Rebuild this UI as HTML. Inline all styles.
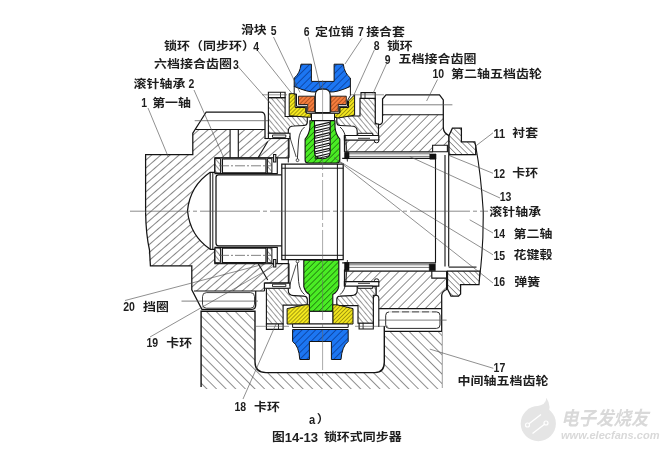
<!DOCTYPE html>
<html lang="zh">
<head>
<meta charset="utf-8">
<title>图14-13 锁环式同步器</title>
<style>
html,body{margin:0;padding:0;background:#fff;}
body{width:668px;height:451px;overflow:hidden;}
svg{display:block;}
.draw,.lbl{filter:blur(0.45px);}
.wm{filter:blur(0.6px);}
.lbl text{font-family:"Liberation Sans","Noto Sans CJK SC",sans-serif;font-size:11.6px;font-weight:700;fill:#1e1e1e;white-space:pre;}
.lbl text.n{font-size:13.6px;font-weight:700;}
.wm text{font-family:"Liberation Sans","Noto Sans CJK SC",sans-serif;font-style:italic;font-weight:700;fill:#d9d9d9;}
</style>
</head>
<body>
<svg width="668" height="451" viewBox="0 0 668 451">
<defs>
<pattern id="hA" width="6" height="6" patternUnits="userSpaceOnUse" patternTransform="rotate(49)"><rect width="6" height="6" fill="#fff"/><line x1="0" y1="0" x2="0" y2="6" stroke="#2a2a2a" stroke-width="1.15"/></pattern>
<pattern id="hG" width="6.4" height="6.4" patternUnits="userSpaceOnUse" patternTransform="rotate(45)"><rect width="6.4" height="6.4" fill="#fff"/><line x1="0" y1="0" x2="0" y2="6.4" stroke="#333" stroke-width="1.1"/></pattern>
<pattern id="hC" width="3.9" height="3.9" patternUnits="userSpaceOnUse" patternTransform="rotate(-40)"><rect width="3.9" height="3.9" fill="#fff"/><line x1="0" y1="0" x2="0" y2="3.9" stroke="#333" stroke-width="1.0"/></pattern>
<pattern id="hD" width="4.1" height="4.1" patternUnits="userSpaceOnUse" patternTransform="rotate(-45)"><rect width="4.1" height="4.1" fill="#fff"/><line x1="0" y1="0" x2="0" y2="4.1" stroke="#333" stroke-width="1.0"/></pattern>
<pattern id="hB" width="6.8" height="6.8" patternUnits="userSpaceOnUse" patternTransform="rotate(-45)"><rect width="6.8" height="6.8" fill="#fff"/><line x1="0" y1="0" x2="0" y2="6.8" stroke="#333" stroke-width="1.1"/></pattern>
<pattern id="hBlue" width="4.8" height="4.8" patternUnits="userSpaceOnUse" patternTransform="rotate(45)"><rect width="4.8" height="4.8" fill="#1c76f2"/><line x1="0" y1="0" x2="0" y2="4.8" stroke="#052a78" stroke-width="1.2"/></pattern>
<pattern id="hOrange" width="3" height="3" patternUnits="userSpaceOnUse" patternTransform="rotate(45)"><rect width="3" height="3" fill="#f67e3e"/><line x1="0" y1="0" x2="0" y2="3" stroke="#7a2e08" stroke-width="1.0"/></pattern>
<pattern id="hYellow" width="2.8" height="2.8" patternUnits="userSpaceOnUse" patternTransform="rotate(45)"><rect width="2.8" height="2.8" fill="#f4e71e"/><line x1="0" y1="0" x2="0" y2="2.8" stroke="#555000" stroke-width="1.0"/></pattern>
<pattern id="hGreen" width="4.2" height="4.2" patternUnits="userSpaceOnUse" patternTransform="rotate(45)"><rect width="4.2" height="4.2" fill="#4aec24"/><line x1="0" y1="0" x2="0" y2="4.2" stroke="#0e4f04" stroke-width="1.2"/></pattern>
</defs>
<rect width="668" height="451" fill="#fff"/>
<g class="draw">
<path d="M145.6 154.7 L192.8 154.7 L192.8 133.1 L195.2 129.5 L230.1 129.5 L230.1 157.8 L215 157.8 L215 172.3 L210.2 172.3 Q190 186 187.5 210.8 L145.6 210.8 Z" fill="url(#hA)" stroke="none" stroke-width="0.00" />
<path d="M238.3 129.5 L264.5 129.5 L264.5 138.5 L289 138.5 L289 157.8 L238.3 157.8 Z" fill="url(#hA)" stroke="none" stroke-width="0.00" />
<path d="M145.6 210.8 L187.5 210.8 Q190 235.6 210.2 249.3 L215 249.3 L215 263.5 L289 263.5 L289 283 L264.5 283 L264.5 291 L194 291 L191.8 289.9 L191.8 265.9 L150.4 265.9 Q146 235 145.6 210.8 Z" fill="url(#hA)" stroke="none" stroke-width="0.00" />
<path d="M145.6 212.8 L145.6 154.7 L192.8 154.7 L192.8 133.1 L206.2 112 L261 112 Q265 112 265 117 L265 138.5" fill="none" stroke="#141414" stroke-width="1.25" />
<path d="M145.6 212.8 Q146 235 149.5 250 L150.4 265.9 L191.8 265.9 L191.8 289.9 L201.9 309.3 L252 309.3 Q255.7 309.3 255.7 305 L255.7 291" fill="none" stroke="#141414" stroke-width="1.25" />
<line x1="195.2" y1="129.5" x2="265" y2="129.5" stroke="#141414" stroke-width="1.12" />
<line x1="194" y1="291" x2="264.5" y2="291" stroke="#141414" stroke-width="1.12" />
<line x1="194.7" y1="120.7" x2="275" y2="120.7" stroke="#555" stroke-width="0.75" />
<line x1="181.5" y1="301.1" x2="258" y2="301.1" stroke="#555" stroke-width="0.75" />
<line x1="230.1" y1="129.5" x2="230.1" y2="157.8" stroke="#141414" stroke-width="1.12" />
<line x1="238.3" y1="129.5" x2="238.3" y2="157.8" stroke="#141414" stroke-width="1.12" />
<path d="M289 157.8 L215 157.8 L215 172.3 L210.2 172.3 Q190 186 187.5 210.8 Q190 235.6 210.2 249.3 L215 249.3 L215 263.5 L289 263.5" fill="none" stroke="#141414" stroke-width="1.25" />
<line x1="267.7" y1="141.5" x2="258.1" y2="157.8" stroke="#141414" stroke-width="1.12" />
<line x1="267.7" y1="280" x2="258.1" y2="263.5" stroke="#141414" stroke-width="1.12" />
<line x1="264.5" y1="138.5" x2="289" y2="138.5" stroke="#141414" stroke-width="1.12" />
<line x1="264.5" y1="283" x2="289" y2="283" stroke="#141414" stroke-width="1.12" />
<line x1="264.5" y1="283" x2="264.5" y2="291" stroke="#141414" stroke-width="1.12" />
<line x1="289" y1="138.5" x2="289" y2="157.8" stroke="#141414" stroke-width="1.12" />
<line x1="289" y1="283" x2="289" y2="263.5" stroke="#141414" stroke-width="1.12" />
<path d="M215 158 L277.3 158 L277.3 173.6 L215 173.6 Z" fill="#fff" stroke="#141414" stroke-width="1.12" />
<path d="M222.4 158.8 L266 158.8 L266 172.8 L222.4 172.8 Z" fill="#fff" stroke="#141414" stroke-width="1.25" />
<path d="M215 158.6 L220.6 158.6 L220.6 173 L215 173 Z" fill="url(#hC)" stroke="#141414" stroke-width="1.00" />
<path d="M267.4 158.6 L271.9 158.6 L271.9 173 L267.4 173 Z" fill="url(#hC)" stroke="#141414" stroke-width="1.00" />
<line x1="219" y1="165.8" x2="271" y2="165.8" stroke="#555" stroke-width="0.75" stroke-dasharray="10 2 2 2"/>
<path d="M273.6 154.5 L275.8 154.5 L275.8 162 L273.6 162 Z" fill="#fff" stroke="#141414" stroke-width="1.12" />
<path d="M215 247.4 L277.3 247.4 L277.3 263.3 L215 263.3 Z" fill="#fff" stroke="#141414" stroke-width="1.12" />
<path d="M222.4 248.2 L266 248.2 L266 262.5 L222.4 262.5 Z" fill="#fff" stroke="#141414" stroke-width="1.25" />
<path d="M215 248 L220.6 248 L220.6 262.7 L215 262.7 Z" fill="url(#hC)" stroke="#141414" stroke-width="1.00" />
<path d="M267.4 248 L271.9 248 L271.9 262.7 L267.4 262.7 Z" fill="url(#hC)" stroke="#141414" stroke-width="1.00" />
<line x1="219" y1="255.35" x2="271" y2="255.35" stroke="#555" stroke-width="0.75" stroke-dasharray="10 2 2 2"/>
<path d="M273.6 259.5 L275.8 259.5 L275.8 267 L273.6 267 Z" fill="#fff" stroke="#141414" stroke-width="1.12" />
<path d="M281.8 174.8 L218.5 174.8 Q216 174.8 216 177.5 L216 243 Q216 245.8 218.5 245.8 L281.8 245.8" fill="none" stroke="#141414" stroke-width="1.25" />
<line x1="210.2" y1="172.3" x2="210.2" y2="249.3" stroke="#141414" stroke-width="1.12" />
<line x1="212.8" y1="172.3" x2="212.8" y2="249.3" stroke="#141414" stroke-width="1.00" />
<path d="M281.8 164 L343.2 164 L343.2 259.5 L281.8 259.5 Z" fill="#fff" stroke="#141414" stroke-width="1.25" />
<line x1="281.8" y1="168.2" x2="343.2" y2="168.2" stroke="#141414" stroke-width="1.00" />
<line x1="281.8" y1="255.3" x2="343.2" y2="255.3" stroke="#141414" stroke-width="1.00" />
<line x1="285.2" y1="164" x2="285.2" y2="259.5" stroke="#141414" stroke-width="1.00" />
<line x1="337.4" y1="164" x2="337.4" y2="259.5" stroke="#141414" stroke-width="1.00" />
<line x1="342.2" y1="158.4" x2="436" y2="158.4" stroke="#141414" stroke-width="1.25" />
<line x1="342.2" y1="262.8" x2="436" y2="262.8" stroke="#141414" stroke-width="1.25" />
<line x1="435.5" y1="158.4" x2="435.5" y2="262.8" stroke="#141414" stroke-width="1.12" />
<line x1="445" y1="155" x2="445" y2="266.6" stroke="#141414" stroke-width="1.12" />
<line x1="448.7" y1="155" x2="448.7" y2="266.6" stroke="#141414" stroke-width="1.12" />
<path d="M475.7 146 Q481 175 483.2 210.8 Q483.6 250 479 280.9" fill="none" stroke="#141414" stroke-width="1.12" />
<line x1="448.7" y1="154.5" x2="476.5" y2="154.5" stroke="#141414" stroke-width="1.12" />
<line x1="448.7" y1="267.1" x2="476.5" y2="267.1" stroke="#141414" stroke-width="1.12" />
<line x1="349" y1="153.8" x2="430" y2="153.8" stroke="#444" stroke-width="0.75" />
<line x1="349" y1="156.4" x2="430" y2="156.4" stroke="#444" stroke-width="0.75" />
<path d="M344.6 152.3 L349 152.3 L349 158.6 L344.6 158.6 Z" fill="#111" stroke="#111" stroke-width="0.62" />
<path d="M429.8 154 L436 154 L436 159.2 L429.8 159.2 Z" fill="#111" stroke="#111" stroke-width="0.62" />
<line x1="349" y1="264.8" x2="430" y2="264.8" stroke="#444" stroke-width="0.75" />
<line x1="349" y1="267.4" x2="430" y2="267.4" stroke="#444" stroke-width="0.75" />
<path d="M344.6 262.5 L349 262.5 L349 270.5 L344.6 270.5 Z" fill="#111" stroke="#111" stroke-width="0.62" />
<path d="M429.3 264.1 L435.3 264.1 L435.3 270.7 L429.3 270.7 Z" fill="#111" stroke="#111" stroke-width="0.62" />
<path d="M382.5 114.7 L443.3 114.7 L443.3 127.9 Q443.6 133 449 135.6 L449 145.2 L432.6 145.2 L432.6 151.8 L344.8 151.8 L344.8 140 L378.5 140 L378.5 124 L382.5 124 Z" fill="url(#hG)" stroke="none" stroke-width="0.00" />
<path d="M378.8 308.6 L441.7 308.6 L441.7 295.4 Q442 291.5 446.6 289.5 L446.6 278.1 L431.8 278.1 L431.8 271.2 L344.8 271.2 L344.8 281.6 L378.8 281.6 Z" fill="url(#hG)" stroke="none" stroke-width="0.00" />
<path d="M382.5 114.7 L382.5 99 L386 94.9 L439.5 94.9 L443.3 100 L443.3 127.9 Q443.6 133 449 135.6 L449 154.5" fill="none" stroke="#141414" stroke-width="1.25" />
<line x1="382.5" y1="114.7" x2="443.3" y2="114.7" stroke="#141414" stroke-width="1.12" />
<line x1="370" y1="104.8" x2="452.4" y2="104.8" stroke="#555" stroke-width="0.75" />
<line x1="378.8" y1="308.6" x2="441.7" y2="308.6" stroke="#141414" stroke-width="1.12" />
<path d="M446.6 271.2 L446.6 289.5 Q442 291.5 441.7 295.4 L441.7 388" fill="none" stroke="#141414" stroke-width="1.25" />
<rect x="385.7" y="311.9" width="54.3" height="16.5" rx="3.5" fill="none" stroke="#141414" stroke-width="0.9"/>
<line x1="389" y1="311.9" x2="437" y2="311.9" stroke="#fff" stroke-width="1.50" stroke-dasharray="3 7"/>
<line x1="375.8" y1="320.1" x2="446.6" y2="320.1" stroke="#555" stroke-width="0.75" />
<path d="M432.6 145.2 L447.4 145.2 L447.4 151.8 L432.6 151.8 Z" fill="#fff" stroke="#141414" stroke-width="1.12" />
<path d="M431.8 271.2 L446.6 271.2 L446.6 278.1 L431.8 278.1 Z" fill="#fff" stroke="#141414" stroke-width="1.12" />
<line x1="344.8" y1="151.8" x2="432.6" y2="151.8" stroke="#141414" stroke-width="1.25" />
<line x1="344.8" y1="271.2" x2="431.8" y2="271.2" stroke="#141414" stroke-width="1.25" />
<path d="M344.8 151.8 L344.8 140 L378.5 140" fill="none" stroke="#141414" stroke-width="1.12" />
<path d="M375.2 99 L375.2 121 Q375.2 124.6 378.8 124.6 Q382.5 124.6 382.5 121 L382.5 99" fill="#fff" stroke="#141414" stroke-width="1.12" />
<line x1="378.5" y1="124.6" x2="378.5" y2="140" stroke="#141414" stroke-width="1.00" />
<path d="M374.4 139 L378.8 139 L378.8 141 Q378.8 142.8 376.6 142.8 Q374.4 142.8 374.4 141 Z" fill="#fff" stroke="#141414" stroke-width="1.00" />
<path d="M344.8 269.8 L344.8 281.6 L378.5 281.6" fill="none" stroke="#141414" stroke-width="1.12" />
<path d="M373.3 327 L373.3 298.5 Q373.3 295.3 376 295.3 Q378.8 295.3 378.8 298.5 L378.8 327" fill="#fff" stroke="#141414" stroke-width="1.12" />
<line x1="376" y1="295.3" x2="376" y2="286" stroke="#141414" stroke-width="1.00" />
<path d="M374.4 282.6 L378.8 282.6 L378.8 280.6 Q378.8 278.8 376.6 278.8 Q374.4 278.8 374.4 280.6 Z" fill="#fff" stroke="#141414" stroke-width="1.00" />
<path d="M449 135.6 L452.4 128.2 L461.4 128.2 L461.4 141.9 L474.8 141.9 L475.7 146 L475.7 154.5 L449 154.5 Z" fill="url(#hD)" stroke="#141414" stroke-width="1.25" />
<path d="M447.5 271.2 L480 271.2 L479 284.7 L460.6 284.7 L460.6 294 L458.5 296.2 L451 296.2 L449 292 L447.5 289 Z" fill="url(#hD)" stroke="#141414" stroke-width="1.25" />
<path d="M268.4 97.6 L285.1 97.6 L285.1 116.5 L307.3 116.5 L307.3 122.5 Q307 125.5 304 125.5 L294 126 Q288.3 126 288.3 131 L288.3 133.3 L268.4 133.3 Z" fill="url(#hC)" stroke="#141414" stroke-width="1.12" />
<path d="M268.4 92.2 L285.1 92.2 L285.1 97.6 L268.4 97.6 Z" fill="#fff" stroke="#141414" stroke-width="1.12" />
<line x1="280.5" y1="92.2" x2="280.5" y2="97.6" stroke="#141414" stroke-width="0.88" />
<path d="M268.4 133.3 L290 133.3 L290 138.5 L268.4 138.5 Z" fill="#fff" stroke="#141414" stroke-width="1.12" />
<path d="M272.5 135 L285.8 135 L285.8 137.4 L272.5 137.4 Z" fill="#fff" stroke="#141414" stroke-width="0.88" />
<path d="M375.2 98.4 L360 98.4 L360 116 L336.8 116 L336.8 122.5 Q337 125.5 340 125.5 L351 126 Q357.2 126 357.2 131 L357.2 135.5 L378.5 135.5 L378.5 124 L375.2 124 Z" fill="url(#hC)" stroke="#141414" stroke-width="1.12" />
<path d="M361 92.6 L375.2 92.6 L375.2 98.4 L361 98.4 Z" fill="#fff" stroke="#141414" stroke-width="1.12" />
<line x1="365" y1="92.6" x2="365" y2="98.4" stroke="#141414" stroke-width="0.88" />
<path d="M344.4 135.5 L378.8 135.5 L378.8 140 L344.4 140 Z" fill="#fff" stroke="#141414" stroke-width="1.12" />
<path d="M357.7 133.3 L372.7 133.3 L372.7 135.5 L357.7 135.5 Z" fill="#fff" stroke="#141414" stroke-width="1.00" />
<line x1="358" y1="138.3" x2="370" y2="138.3" stroke="#141414" stroke-width="0.88" />
<line x1="288.3" y1="138.5" x2="288.3" y2="162.5" stroke="#141414" stroke-width="1.00" />
<path d="M297.2 161.5 L298.6 140 Q299.5 131 304.6 127" fill="none" stroke="#141414" stroke-width="0.88" />
<path d="M347.4 161.5 L346 140 Q345 131 340 127" fill="none" stroke="#141414" stroke-width="0.88" />
<line x1="296.2" y1="157" x2="289.5" y2="136" stroke="#141414" stroke-width="0.75" />
<circle cx="297.5" cy="160.2" r="1.4" fill="#fff" stroke="#141414" stroke-width="0.7"/>
<line x1="344.4" y1="135.5" x2="344.4" y2="152" stroke="#141414" stroke-width="1.00" />
<path d="M266.4 324 L283.1 324 L283.1 305.1 L307.3 305.1 L307.3 299.1 Q307 296.1 304 296.1 L294 295.6 Q288.3 295.6 288.3 290.6 L288.3 288.3 L266.4 288.3 Z" fill="url(#hC)" stroke="#141414" stroke-width="1.12" />
<path d="M266.4 329.4 L283.1 329.4 L283.1 324 L266.4 324 Z" fill="#fff" stroke="#141414" stroke-width="1.12" />
<line x1="278.5" y1="329.4" x2="278.5" y2="324" stroke="#141414" stroke-width="0.88" />
<path d="M264.4 288.3 L290 288.3 L290 283.1 L264.4 283.1 Z" fill="#fff" stroke="#141414" stroke-width="1.12" />
<path d="M272.5 286.6 L285.8 286.6 L285.8 284.2 L272.5 284.2 Z" fill="#fff" stroke="#141414" stroke-width="0.88" />
<path d="M373.3 323.2 L358 323.2 L358 305.6 L336.8 305.6 L336.8 299.1 Q337 296.1 340 296.1 L351 295.6 Q357.2 295.6 357.2 290.6 L357.2 286.1 L376 286.1 L376 295.3 L373.3 295.3 Z" fill="url(#hC)" stroke="#141414" stroke-width="1.12" />
<path d="M359.1 329 L373.3 329 L373.3 323.2 L359.1 323.2 Z" fill="#fff" stroke="#141414" stroke-width="1.12" />
<line x1="363.1" y1="329" x2="363.1" y2="323.2" stroke="#141414" stroke-width="0.88" />
<path d="M344.4 286.1 L378.8 286.1 L378.8 281.6 L344.4 281.6 Z" fill="#fff" stroke="#141414" stroke-width="1.12" />
<path d="M357.7 288.3 L372.7 288.3 L372.7 286.1 L357.7 286.1 Z" fill="#fff" stroke="#141414" stroke-width="1.00" />
<line x1="358" y1="283.3" x2="370" y2="283.3" stroke="#141414" stroke-width="0.88" />
<line x1="288.3" y1="283.1" x2="288.3" y2="259.1" stroke="#141414" stroke-width="1.00" />
<path d="M297.2 260.1 L298.6 281.6 Q299.5 290.6 304.6 294.6" fill="none" stroke="#141414" stroke-width="0.88" />
<path d="M347.4 260.1 L346 281.6 Q345 290.6 340 294.6" fill="none" stroke="#141414" stroke-width="0.88" />
<line x1="296.2" y1="264.6" x2="289.5" y2="285.6" stroke="#141414" stroke-width="0.75" />
<circle cx="297.5" cy="261.4" r="1.4" fill="#fff" stroke="#141414" stroke-width="0.7"/>
<line x1="344.4" y1="286.1" x2="344.4" y2="269.6" stroke="#141414" stroke-width="1.00" />
<path d="M309.9 120.8 L335 120.8 L335 127 Q335.5 134 339.8 139 L339.8 160 Q339.8 163 337 163 L308 163 Q305.1 163 305.1 160 L305.1 139 Q309.5 134 309.9 127 Z" fill="url(#hGreen)" stroke="#141414" stroke-width="1.12" />
<path d="M303.8 260.2 L338.8 260.2 L338.8 286.2 Q337.8 292 332.8 294.4 L332.8 311.4 L309.4 311.4 L309.4 294.4 Q305 292 303.8 286.6 Z" fill="url(#hGreen)" stroke="#141414" stroke-width="1.12" />
<path d="M314.5 120.8 L330.2 120.8 L330.2 152 Q330.2 158.7 322.4 158.7 Q314.5 158.7 314.5 152 Z" fill="#fff" stroke="#141414" stroke-width="1.12" />
<line x1="315.2" y1="125.7" x2="329.5" y2="122.3" stroke="#141414" stroke-width="1.25" />
<line x1="315.2" y1="127.9" x2="329.5" y2="124.5" stroke="#141414" stroke-width="1.00" />
<line x1="329.5" y1="122.3" x2="329.5" y2="124.5" stroke="#141414" stroke-width="0.88" />
<line x1="315.2" y1="125.7" x2="315.2" y2="127.9" stroke="#141414" stroke-width="0.88" />
<line x1="315.2" y1="130.9" x2="329.5" y2="127.5" stroke="#141414" stroke-width="1.25" />
<line x1="315.2" y1="133.1" x2="329.5" y2="129.7" stroke="#141414" stroke-width="1.00" />
<line x1="329.5" y1="127.5" x2="329.5" y2="129.7" stroke="#141414" stroke-width="0.88" />
<line x1="315.2" y1="130.9" x2="315.2" y2="133.1" stroke="#141414" stroke-width="0.88" />
<line x1="315.2" y1="136.1" x2="329.5" y2="132.7" stroke="#141414" stroke-width="1.25" />
<line x1="315.2" y1="138.3" x2="329.5" y2="134.9" stroke="#141414" stroke-width="1.00" />
<line x1="329.5" y1="132.7" x2="329.5" y2="134.9" stroke="#141414" stroke-width="0.88" />
<line x1="315.2" y1="136.1" x2="315.2" y2="138.3" stroke="#141414" stroke-width="0.88" />
<line x1="315.2" y1="141.3" x2="329.5" y2="137.9" stroke="#141414" stroke-width="1.25" />
<line x1="315.2" y1="143.5" x2="329.5" y2="140.1" stroke="#141414" stroke-width="1.00" />
<line x1="329.5" y1="137.9" x2="329.5" y2="140.1" stroke="#141414" stroke-width="0.88" />
<line x1="315.2" y1="141.3" x2="315.2" y2="143.5" stroke="#141414" stroke-width="0.88" />
<line x1="315.2" y1="146.5" x2="329.5" y2="143.1" stroke="#141414" stroke-width="1.25" />
<line x1="315.2" y1="148.7" x2="329.5" y2="145.3" stroke="#141414" stroke-width="1.00" />
<line x1="329.5" y1="143.1" x2="329.5" y2="145.3" stroke="#141414" stroke-width="0.88" />
<line x1="315.2" y1="146.5" x2="315.2" y2="148.7" stroke="#141414" stroke-width="0.88" />
<line x1="315.2" y1="151.7" x2="329.5" y2="148.3" stroke="#141414" stroke-width="1.25" />
<line x1="315.2" y1="153.9" x2="329.5" y2="150.5" stroke="#141414" stroke-width="1.00" />
<line x1="329.5" y1="148.3" x2="329.5" y2="150.5" stroke="#141414" stroke-width="0.88" />
<line x1="315.2" y1="151.7" x2="315.2" y2="153.9" stroke="#141414" stroke-width="0.88" />
<line x1="315.2" y1="156.9" x2="329.5" y2="153.5" stroke="#141414" stroke-width="1.25" />
<line x1="315.2" y1="159.1" x2="329.5" y2="155.7" stroke="#141414" stroke-width="1.00" />
<line x1="329.5" y1="153.5" x2="329.5" y2="155.7" stroke="#141414" stroke-width="0.88" />
<line x1="315.2" y1="156.9" x2="315.2" y2="159.1" stroke="#141414" stroke-width="0.88" />
<path d="M289.2 93.7 L295.2 93.7 L295.2 107.5 L305.7 107.5 L305.7 112.7 L310.9 112.7 L310.9 117.2 L307.2 117.2 L289.2 115.7 Z" fill="url(#hYellow)" stroke="#141414" stroke-width="1.00" />
<path d="M354.6 94.8 L354.6 115.2 L338 118 L334.5 117.2 L334.5 112.7 L340 112.7 L340 107.5 L348.5 107.5 L348.5 101 Z" fill="url(#hYellow)" stroke="#141414" stroke-width="1.00" />
<path d="M287.1 308.6 L305 304.8 L309.4 304.8 L309.4 324 L287.1 324 Z" fill="url(#hYellow)" stroke="#141414" stroke-width="1.00" />
<path d="M353 308.6 L337 304.8 L332.8 304.8 L332.8 324 L353 324 Z" fill="url(#hYellow)" stroke="#141414" stroke-width="1.00" />
<path d="M309.4 311.4 L332.8 311.4 L332.8 324 L309.4 324 Z" fill="#fff" stroke="#141414" stroke-width="1.00" />
<path d="M292.6 324 L348.2 324 L348.2 327.4 L292.6 327.4 Z" fill="#fff" stroke="#141414" stroke-width="1.00" />
<path d="M294.2 86 L294.2 94 L296.5 94 L296.5 106.3 L306.7 106.3 L306.7 113.3 L339.3 113.3 L339.3 106.3 L347.5 106.3 L347.5 100.5 L350.4 95.5 L350.4 86" fill="#fff" stroke="#141414" stroke-width="1.00" />
<path d="M298.5 96.2 L314.7 96.2 L314.7 111.8 L307.7 111.8 L307.7 104.5 L298.5 104.5 Z" fill="url(#hOrange)" stroke="#141414" stroke-width="0.88" />
<path d="M346.3 96.2 L330.7 96.2 L330.7 111.8 L338.3 111.8 L338.3 104.5 L346.3 104.5 Z" fill="url(#hOrange)" stroke="#141414" stroke-width="0.88" />
<path d="M315.3 112.5 L315.3 95 Q315.3 89 322.7 89 Q330.2 89 330.2 95 L330.2 112.5 Z" fill="#fff" stroke="#141414" stroke-width="1.12" />
<path d="M311.5 113.3 L334.5 113.3 L334.5 120.5 L311.5 120.5 Z" fill="#fff" stroke="#141414" stroke-width="1.00" />
<path d="M301 64.2 L311.4 64.2 L311.4 81.4 L334.1 81.4 L334.1 64.2 L343.3 64.2 Q344.5 73.5 350.4 78 L350.4 86.4 Q337 92.5 330 92 Q329 89 322.7 88.8 Q316.5 89 315.5 92 Q308 92.5 294.2 86.4 L294.2 78 Q300 73.5 301 64.2 Z" fill="url(#hBlue)" stroke="#141414" stroke-width="1.00" />
<path d="M292.6 329.5 L348.2 329.5 L348.2 341.5 Q342 346 341 359.5 L331.4 359.5 L331.4 341.5 L309.4 341.5 L309.4 359.5 L299.8 359.5 Q299 346 292.6 341.5 Z" fill="url(#hBlue)" stroke="#141414" stroke-width="1.00" />
<path d="M201.1 311.3 L255 311.3 L255 362 Q255 372.6 266 372.6 L375 372.6 Q384.3 372.6 384.3 362 L384.3 331.4 L441.9 331.4 L441.9 389 L201.1 389 Z" fill="url(#hB)" stroke="none" stroke-width="0.00" />
<path d="M201.1 387 L201.1 311.3 L255 311.3 L255 362 Q255 372.6 266 372.6 L375 372.6 Q384.3 372.6 384.3 362 L384.3 326" fill="none" stroke="#141414" stroke-width="1.38" />
<line x1="384.3" y1="331.4" x2="441.9" y2="331.4" stroke="#141414" stroke-width="1.12" />
<rect x="202.5" y="292.6" width="52" height="15.6" rx="4" fill="none" stroke="#141414" stroke-width="0.8"/>
<line x1="262" y1="94.8" x2="287" y2="94.8" stroke="#555" stroke-width="0.62" />
<line x1="351" y1="94.8" x2="384" y2="94.8" stroke="#555" stroke-width="0.62" />
<line x1="256" y1="326.3" x2="289" y2="326.3" stroke="#555" stroke-width="0.62" />
<line x1="355" y1="326.3" x2="388" y2="326.3" stroke="#555" stroke-width="0.62" />
<line x1="130" y1="211.2" x2="488" y2="211.2" stroke="#555" stroke-width="0.69" stroke-dasharray="60 3 4 3"/>
<line x1="322.6" y1="80" x2="322.6" y2="376" stroke="#666" stroke-width="0.56" stroke-dasharray="40 3 4 3"/>
<line x1="148" y1="108" x2="168.3" y2="157" stroke="#4a4a4a" stroke-width="0.62" />
<line x1="194" y1="90" x2="224.6" y2="159.5" stroke="#4a4a4a" stroke-width="0.62" />
<line x1="238.3" y1="66.9" x2="271" y2="104" stroke="#4a4a4a" stroke-width="0.62" />
<line x1="258" y1="51" x2="291.5" y2="93" stroke="#4a4a4a" stroke-width="0.62" />
<line x1="273.5" y1="37" x2="300" y2="92.5" stroke="#4a4a4a" stroke-width="0.62" />
<line x1="308.3" y1="37.2" x2="320.3" y2="88" stroke="#4a4a4a" stroke-width="0.62" />
<line x1="362" y1="38.4" x2="345" y2="64" stroke="#4a4a4a" stroke-width="0.62" />
<line x1="374.3" y1="50" x2="353" y2="97" stroke="#4a4a4a" stroke-width="0.62" />
<line x1="386.6" y1="63.5" x2="373" y2="93.5" stroke="#4a4a4a" stroke-width="0.62" />
<line x1="437.5" y1="79.5" x2="426.6" y2="101" stroke="#4a4a4a" stroke-width="0.62" />
<line x1="493" y1="132.8" x2="475.7" y2="146" stroke="#4a4a4a" stroke-width="0.62" />
<line x1="493" y1="173.3" x2="448" y2="155" stroke="#4a4a4a" stroke-width="0.62" />
<line x1="500" y1="198" x2="409.8" y2="156.6" stroke="#4a4a4a" stroke-width="0.62" />
<line x1="493" y1="233" x2="469.7" y2="219.8" stroke="#4a4a4a" stroke-width="0.62" />
<line x1="493" y1="254.8" x2="340" y2="161.6" stroke="#4a4a4a" stroke-width="0.62" />
<line x1="493" y1="283" x2="334" y2="157.5" stroke="#4a4a4a" stroke-width="0.62" />
<line x1="493.3" y1="368.3" x2="429.8" y2="349.1" stroke="#4a4a4a" stroke-width="0.62" />
<line x1="243" y1="399" x2="276" y2="324" stroke="#4a4a4a" stroke-width="0.62" />
<line x1="125" y1="300.5" x2="272" y2="262" stroke="#4a4a4a" stroke-width="0.62" />
<line x1="150" y1="337" x2="274" y2="266" stroke="#4a4a4a" stroke-width="0.62" />
</g>
<g class="lbl">
<text x="240.9" y="34.0" textLength="25.8" lengthAdjust="spacingAndGlyphs">滑块</text>
<text class="n" x="270.8" y="34.5" textLength="5.8" lengthAdjust="spacingAndGlyphs">5</text>
<text x="164.1" y="50.2" textLength="90.8" lengthAdjust="spacingAndGlyphs">锁环（同步环）</text>
<text class="n" x="253.3" y="50.7" textLength="5.8" lengthAdjust="spacingAndGlyphs">4</text>
<text x="154.1" y="68.2" textLength="77.8" lengthAdjust="spacingAndGlyphs">六档接合齿圈</text>
<text class="n" x="233.1" y="68.7" textLength="5.8" lengthAdjust="spacingAndGlyphs">3</text>
<text x="133.6" y="87.9" textLength="51.8" lengthAdjust="spacingAndGlyphs">滚针轴承</text>
<text class="n" x="188.6" y="88.4" textLength="5.8" lengthAdjust="spacingAndGlyphs">2</text>
<text class="n" x="141.3" y="107.3" textLength="5.8" lengthAdjust="spacingAndGlyphs">1</text>
<text x="152.2" y="106.8" textLength="38.8" lengthAdjust="spacingAndGlyphs">第一轴</text>
<text class="n" x="303.8" y="36.4" textLength="5.8" lengthAdjust="spacingAndGlyphs">6</text>
<text x="315.0" y="35.9" textLength="38.8" lengthAdjust="spacingAndGlyphs">定位销</text>
<text class="n" x="358.1" y="36.4" textLength="5.8" lengthAdjust="spacingAndGlyphs">7</text>
<text x="366.2" y="35.9" textLength="38.8" lengthAdjust="spacingAndGlyphs">接合套</text>
<text class="n" x="373.7" y="50.1" textLength="5.8" lengthAdjust="spacingAndGlyphs">8</text>
<text x="386.9" y="49.6" textLength="25.8" lengthAdjust="spacingAndGlyphs">锁环</text>
<text class="n" x="384.7" y="63.5" textLength="5.8" lengthAdjust="spacingAndGlyphs">9</text>
<text x="398.6" y="63.0" textLength="77.8" lengthAdjust="spacingAndGlyphs">五档接合齿圈</text>
<text class="n" x="432.5" y="78.4" textLength="11.7" lengthAdjust="spacingAndGlyphs">10</text>
<text x="451.1" y="77.9" textLength="90.8" lengthAdjust="spacingAndGlyphs">第二轴五档齿轮</text>
<text class="n" x="493.5" y="137.7" textLength="11.7" lengthAdjust="spacingAndGlyphs">11</text>
<text x="512.3" y="137.2" textLength="25.8" lengthAdjust="spacingAndGlyphs">衬套</text>
<text class="n" x="493.5" y="177.9" textLength="11.7" lengthAdjust="spacingAndGlyphs">12</text>
<text x="512.3" y="177.4" textLength="25.8" lengthAdjust="spacingAndGlyphs">卡环</text>
<text class="n" x="499.7" y="200.9" textLength="11.7" lengthAdjust="spacingAndGlyphs">13</text>
<text x="489.3" y="215.9" textLength="51.8" lengthAdjust="spacingAndGlyphs">滚针轴承</text>
<text class="n" x="493.5" y="238.2" textLength="11.7" lengthAdjust="spacingAndGlyphs">14</text>
<text x="513.6" y="237.7" textLength="38.8" lengthAdjust="spacingAndGlyphs">第二轴</text>
<text class="n" x="493.5" y="259.5" textLength="11.7" lengthAdjust="spacingAndGlyphs">15</text>
<text x="513.6" y="259.0" textLength="38.8" lengthAdjust="spacingAndGlyphs">花键毂</text>
<text class="n" x="493.5" y="286.2" textLength="11.7" lengthAdjust="spacingAndGlyphs">16</text>
<text x="514.3" y="285.7" textLength="25.8" lengthAdjust="spacingAndGlyphs">弹簧</text>
<text class="n" x="493.6" y="371.9" textLength="11.7" lengthAdjust="spacingAndGlyphs">17</text>
<text x="457.6" y="384.8" textLength="90.8" lengthAdjust="spacingAndGlyphs">中间轴五档齿轮</text>
<text class="n" x="123.2" y="311.4" textLength="11.7" lengthAdjust="spacingAndGlyphs">20</text>
<text x="143.0" y="310.9" textLength="25.8" lengthAdjust="spacingAndGlyphs">挡圈</text>
<text class="n" x="146.5" y="347.3" textLength="11.7" lengthAdjust="spacingAndGlyphs">19</text>
<text x="166.3" y="346.8" textLength="25.8" lengthAdjust="spacingAndGlyphs">卡环</text>
<text class="n" x="234.5" y="411.0" textLength="11.7" lengthAdjust="spacingAndGlyphs">18</text>
<text x="254.0" y="410.5" textLength="25.8" lengthAdjust="spacingAndGlyphs">卡环</text>
<text class="n" x="308.9" y="423.5" textLength="6.2" lengthAdjust="spacingAndGlyphs">a</text>
<text x="316.8" y="423.0" textLength="12.8" lengthAdjust="spacingAndGlyphs">）</text>
<text x="272.1" y="441.1" textLength="12.8" lengthAdjust="spacingAndGlyphs">图</text>
<text class="n" x="284.7" y="441.6" textLength="33.4" lengthAdjust="spacingAndGlyphs">14-13</text>
<text x="323.9" y="441.1" textLength="77.8" lengthAdjust="spacingAndGlyphs">锁环式同步器</text>
</g>
<g class="wm">
<circle cx="538.3" cy="423.6" r="17.6" fill="#e5e5e5"/>
<path d="M536 406.5 Q546.5 405 546.3 397.8 Q552.5 407 547 416 Z" fill="#e5e5e5"/>
<path d="M528 424.5 L541 414.5 M532.5 433.5 L545.5 423.5" stroke="#fff" stroke-width="1.4" fill="none"/>
<circle cx="527.5" cy="425" r="2" fill="#e5e5e5" stroke="#fff" stroke-width="1.2"/>
<circle cx="546" cy="423" r="2" fill="#e5e5e5" stroke="#fff" stroke-width="1.2"/>
<text x="561" y="425.2" font-size="19" textLength="87.5" lengthAdjust="spacingAndGlyphs">电子发烧友</text>
<text x="561" y="438.8" font-size="11.6" textLength="98.5" lengthAdjust="spacingAndGlyphs">www.elecfans.com</text>
</g>
</svg>
</body>
</html>
